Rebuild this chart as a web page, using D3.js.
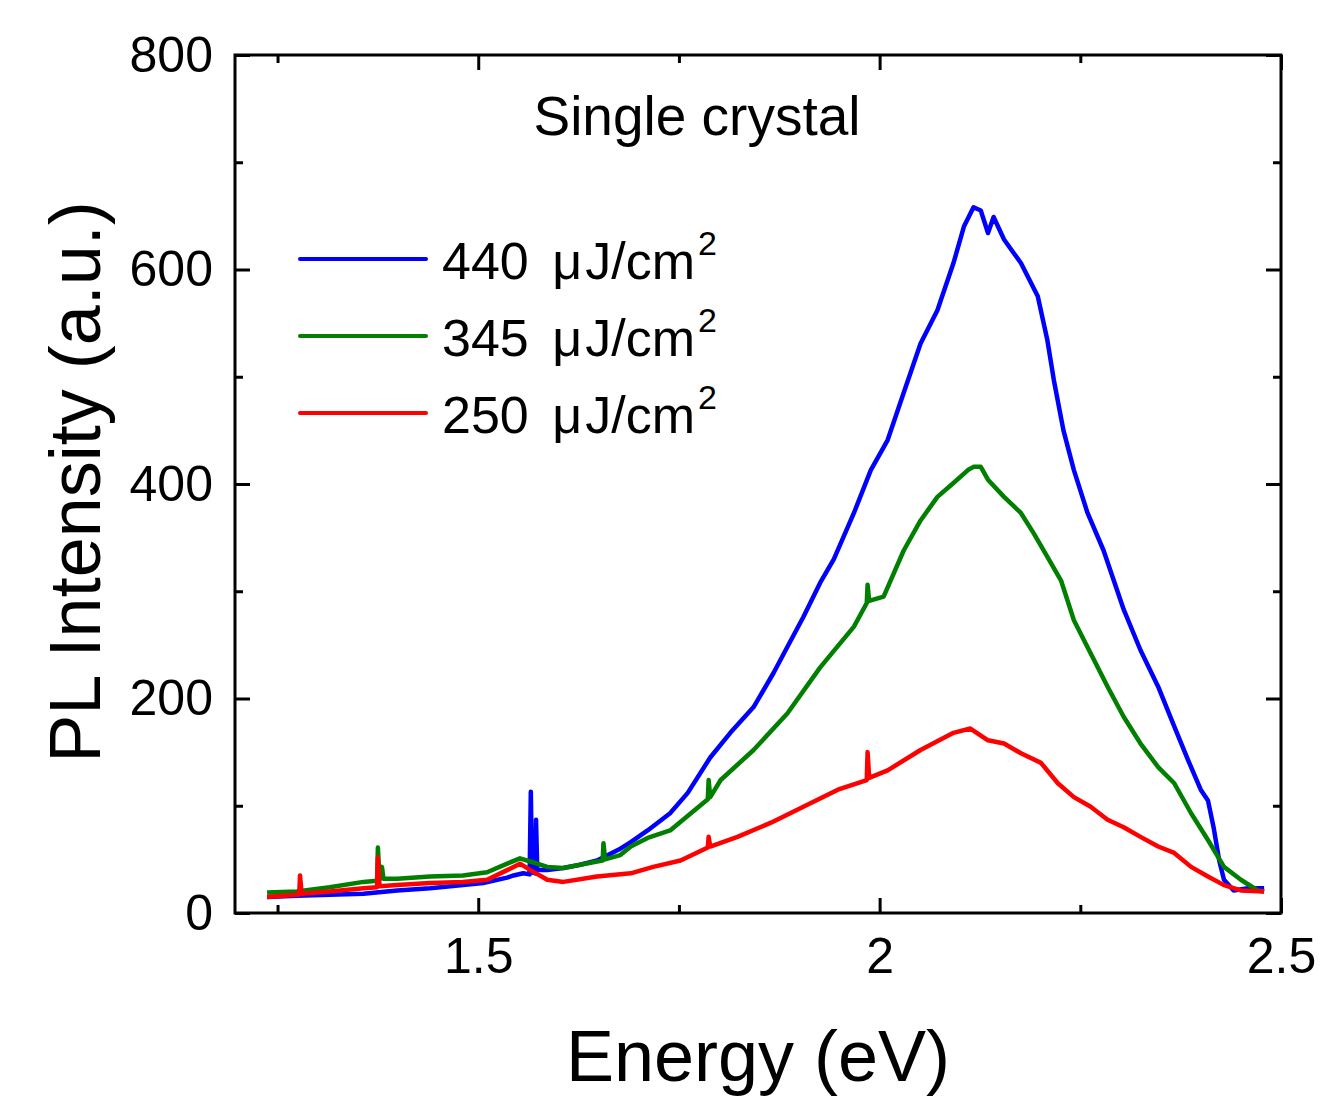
<!DOCTYPE html>
<html>
<head>
<meta charset="utf-8">
<script src="https://cdn.jsdelivr.net/npm/d3@7"></script>
<style>
  body { margin: 0; background: #fff; }
  text { font-family: 'Liberation Sans', Arial, sans-serif; fill: #000; }
</style>
</head>
<body>
<script>
// --- data (energy in eV, PL intensity in a.u.) ---
const energy440 = [1.237, 1.274, 1.315, 1.357, 1.399, 1.440, 1.481, 1.506, 1.536, 1.544, 1.556, 1.564, 1.5655, 1.567, 1.571, 1.572, 1.5735, 1.586, 1.606, 1.627, 1.648, 1.677, 1.690, 1.711, 1.739, 1.761, 1.789, 1.814, 1.843, 1.868, 1.885, 1.905, 1.926, 1.943, 1.968, 1.989, 2.010, 2.030, 2.051, 2.072, 2.092, 2.105, 2.117, 2.126, 2.135, 2.142, 2.155, 2.176, 2.197, 2.209, 2.217, 2.229, 2.242, 2.259, 2.279, 2.304, 2.325, 2.347, 2.367, 2.384, 2.400, 2.409, 2.416, 2.423, 2.429, 2.441, 2.459, 2.479];
const pl440 = [15, 16, 17, 18, 21, 23, 26, 28, 33, 35, 37, 36, 113, 38, 37, 87, 40, 40, 42, 45, 49, 60, 66, 77, 93, 112, 145, 168, 192, 224, 248, 276, 308, 330, 373, 413, 441, 485, 531, 562, 606, 640, 658, 655, 634, 649, 628, 606, 575, 534, 497, 450, 413, 373, 338, 283, 245, 211, 174, 143, 115, 105, 80, 49, 31, 21, 23, 23];

const energy345 = [1.237, 1.274, 1.315, 1.357, 1.374, 1.375, 1.377, 1.380, 1.382, 1.399, 1.440, 1.481, 1.511, 1.536, 1.552, 1.565, 1.586, 1.606, 1.627, 1.648, 1.655, 1.656, 1.658, 1.677, 1.690, 1.711, 1.739, 1.786, 1.787, 1.789, 1.802, 1.843, 1.885, 1.926, 1.968, 1.984, 1.985, 1.987, 2.005, 2.030, 2.051, 2.072, 2.092, 2.110, 2.117, 2.126, 2.135, 2.155, 2.176, 2.192, 2.209, 2.226, 2.242, 2.263, 2.284, 2.304, 2.325, 2.347, 2.367, 2.388, 2.409, 2.429, 2.450, 2.471, 2.479];
const pl345 = [19, 20, 24, 29, 30, 61, 31, 43, 32, 32, 34, 35, 38, 46, 51, 48, 43, 42, 45, 48, 49, 65, 50, 54, 62, 70, 77, 106, 124, 108, 124, 152, 186, 229, 267, 289, 306, 291, 295, 338, 366, 388, 401, 413, 416, 416, 404, 388, 373, 354, 332, 310, 273, 242, 211, 183, 158, 136, 121, 93, 68, 43, 31, 21, 20];

const energy250 = [1.237, 1.274, 1.277, 1.278, 1.280, 1.315, 1.357, 1.374, 1.375, 1.377, 1.399, 1.440, 1.481, 1.511, 1.536, 1.552, 1.565, 1.586, 1.606, 1.648, 1.690, 1.718, 1.752, 1.786, 1.787, 1.789, 1.823, 1.864, 1.905, 1.948, 1.984, 1.985, 1.987, 2.010, 2.051, 2.092, 2.113, 2.135, 2.155, 2.176, 2.201, 2.222, 2.242, 2.263, 2.284, 2.304, 2.325, 2.347, 2.367, 2.388, 2.409, 2.429, 2.450, 2.479];
const pl250 = [15, 17, 17, 35, 18, 20, 23, 24, 52, 25, 26, 28, 29, 31, 40, 46, 40, 31, 29, 34, 37, 43, 49, 61, 71, 62, 71, 84, 99, 115, 124, 150, 126, 133, 152, 168, 172, 161, 158, 149, 140, 121, 108, 99, 87, 80, 71, 62, 56, 43, 34, 26, 21, 20];

const seriesLabels = ['440', '345', '250'];
const seriesColors = ['#0000ff', '#007f00', '#ff0000'];
const xTicks = [1.5, 2, 2.5];
const xMinorTicks = [1.25, 1.75, 2.25];
const yTicks = [0, 200, 400, 600, 800];
const yMinorTicks = [100, 300, 500, 700];

// --- layout ---
const width = 1321;
const height = 1104;
const margin = { top: 55, right: 40, bottom: 191, left: 235 };
const plotW = width - margin.left - margin.right;
const plotH = height - margin.top - margin.bottom;

const x = d3.scaleLinear().domain([1.197, 2.5]).range([0, plotW]);
const y = d3.scaleLinear().domain([0, 800]).range([plotH, 0]);

const svg = d3.select('body').append('svg').attr('width', width).attr('height', height);
const g = svg.append('g').attr('transform', `translate(${margin.left},${margin.top})`);

// curves
const line = d3.line().x((d) => x(d[0])).y((d) => y(d[1]));
const series = [
	{ e: energy440, v: pl440 },
	{ e: energy345, v: pl345 },
	{ e: energy250, v: pl250 }
];
g.append('defs').append('clipPath').attr('id', 'clip')
	.append('rect').attr('width', plotW).attr('height', plotH);
const gLines = g.append('g').attr('clip-path', 'url(#clip)');
series.forEach((s, i) => {
	gLines.append('path')
		.datum(d3.zip(s.e, s.v))
		.attr('fill', 'none')
		.attr('stroke', seriesColors[i])
		.attr('stroke-width', 4.5)
		.attr('stroke-linejoin', 'round')
		.attr('d', line);
});

// axes: ticks point inward on all four sides
const styleAxis = (sel) => {
	sel.select('.domain').remove();
	sel.selectAll('.tick line').attr('stroke', '#000').attr('stroke-width', 3);
	sel.selectAll('.tick text').style('font-size', '50px').style('font-family', "'Liberation Sans', Arial, sans-serif");
};

g.append('g').attr('transform', `translate(0,${plotH})`)
	.call(d3.axisBottom(x).tickValues(xTicks).tickSize(-15).tickPadding(24).tickFormat(d3.format('')))
	.call(styleAxis);
g.append('g').attr('transform', `translate(0,${plotH})`)
	.call(d3.axisBottom(x).tickValues(xMinorTicks).tickSize(-8).tickFormat(''))
	.call(styleAxis);
g.append('g')
	.call(d3.axisTop(x).tickValues(xTicks).tickSize(-15).tickFormat(''))
	.call(styleAxis);
g.append('g')
	.call(d3.axisTop(x).tickValues(xMinorTicks).tickSize(-8).tickFormat(''))
	.call(styleAxis);

g.append('g')
	.call(d3.axisLeft(y).tickValues(yTicks).tickSize(-15).tickPadding(22).tickFormat(d3.format('d')))
	.call(styleAxis);
g.append('g')
	.call(d3.axisLeft(y).tickValues(yMinorTicks).tickSize(-8).tickFormat(''))
	.call(styleAxis);
g.append('g').attr('transform', `translate(${plotW},0)`)
	.call(d3.axisRight(y).tickValues(yTicks).tickSize(-15).tickFormat(''))
	.call(styleAxis);
g.append('g').attr('transform', `translate(${plotW},0)`)
	.call(d3.axisRight(y).tickValues(yMinorTicks).tickSize(-8).tickFormat(''))
	.call(styleAxis);

// frame
g.append('rect')
	.attr('width', plotW).attr('height', plotH)
	.attr('fill', 'none').attr('stroke', '#000').attr('stroke-width', 3);

// axis titles
svg.append('text')
	.attr('x', margin.left + plotW / 2).attr('y', 1081)
	.attr('text-anchor', 'middle')
	.style('font-size', '72px')
	.text('Energy (eV)');
svg.append('text')
	.attr('transform', 'translate(100,482) rotate(-90)')
	.attr('text-anchor', 'middle')
	.style('font-size', '72px')
	.text('PL Intensity (a.u.)');

// annotation
svg.append('text')
	.attr('x', 697).attr('y', 135)
	.attr('text-anchor', 'middle')
	.style('font-size', '55px')
	.text('Single crystal');

// legend
const legend = svg.append('g').attr('transform', 'translate(300,259)');
seriesLabels.forEach((lab, i) => {
	const row = legend.append('g').attr('transform', `translate(0,${i * 77})`);
	row.append('line')
		.attr('x1', 0).attr('x2', 126)
		.attr('stroke', seriesColors[i]).attr('stroke-width', 4)
		.attr('stroke-linecap', 'round');
	const t = row.append('text').attr('x', 142).attr('y', 20).style('font-size', '52px');
	t.append('tspan').text(`${lab} `);
	t.append('tspan').attr('dx', 9).text('\u03bc');
	t.append('tspan').attr('dx', 3).text('J/cm');
	t.append('tspan').attr('dx', 3).attr('dy', -24).style('font-size', '34px').text('2');
});
</script>
</body>
</html>
